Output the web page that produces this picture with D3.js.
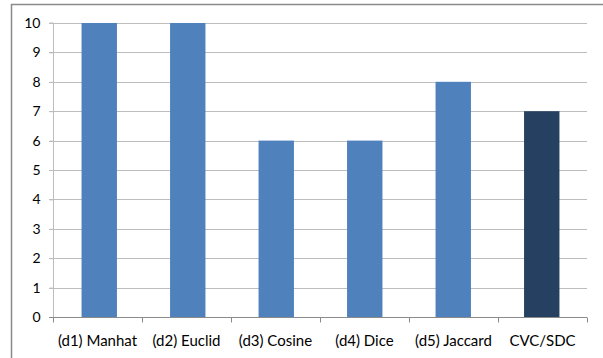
<!DOCTYPE html>
<html>
<head>
<meta charset="utf-8">
<script src="https://cdn.jsdelivr.net/npm/d3@7"></script>
<style>
  html, body { margin: 0; padding: 0; background: #fff; }
  svg { display: block; }
</style>
</head>
<body>
<svg id="chart" width="603" height="358"></svg>
<script>
// Measures compared and the score each one obtained
const categories = ["(d1) Manhat", "(d2) Euclid", "(d3) Cosine", "(d4) Dice", "(d5) Jaccard", "CVC/SDC"];
const scores = [10, 10, 6, 6, 8, 7];
const yTicks = [0, 1, 2, 3, 4, 5, 6, 7, 8, 9, 10];
const highlighted = ["CVC/SDC"];

const svg = d3.select("#chart");
const margin = { left: 53, right: 16, top: 23, bottom: 41 };
const W = 603, H = 358;
const font = "Lato, 'Open Sans', sans-serif";

// Chart frame (only top and left edges fall inside the view)
svg.append("path")
  .attr("d", `M11.5,358 V4.5 H603`)
  .attr("fill", "none")
  .attr("stroke", "#8a8a8a")
  .attr("stroke-width", 1.5);

// Category bands (for separators and labels)
const band = d3.scaleBand()
  .domain(categories)
  .range([margin.left, W - margin.right]);

// Bar placement inside the bands
const x = d3.scaleBand()
  .domain(categories)
  .range([margin.left + 2, W - margin.right - 1])
  .paddingInner(0.6)
  .paddingOuter(0.3);

const y = d3.scaleLinear()
  .domain([0, 10])
  .range([H - margin.bottom, margin.top]);

// Horizontal gridlines
svg.append("g")
  .selectAll("line")
  .data(yTicks.filter(d => d > 0))
  .join("line")
  .attr("x1", margin.left - 4)
  .attr("x2", W - margin.right)
  .attr("y1", d => Math.round(y(d)) + 0.5)
  .attr("y2", d => Math.round(y(d)) + 0.5)
  .attr("stroke", "#bdbdbd")
  .attr("stroke-width", 1);

// Bars
svg.append("g")
  .selectAll("rect")
  .data(categories.map((c, i) => ({ c, v: scores[i] })))
  .join("rect")
  .attr("x", d => x(d.c))
  .attr("width", x.bandwidth())
  .attr("y", d => y(d.v))
  .attr("height", d => y(0) - y(d.v))
  .attr("fill", d => highlighted.includes(d.c) ? "#254061" : "#4f81bd");

// Y axis
const yAxis = svg.append("g")
  .attr("transform", `translate(${margin.left + 0.5},0)`)
  .call(d3.axisLeft(y).tickValues(yTicks).tickSize(4).tickPadding(9).tickFormat(d3.format("d")));
yAxis.select(".domain").attr("stroke", "#bdbdbd").attr("d", `M-4,${y(10)}H0V${y(0)}`);
yAxis.selectAll(".tick line").attr("stroke", "#bdbdbd");
yAxis.selectAll("text")
  .attr("font-family", font)
  .attr("font-size", 14)
  .attr("fill", "#000");

// X axis with ticks between categories
const xAxisG = svg.append("g")
  .attr("transform", `translate(0,${Math.round(y(0)) + 0.5})`);
xAxisG.append("line")
  .attr("x1", margin.left - 4).attr("x2", W - margin.right)
  .attr("stroke", "#8a8a8a");
const bounds = categories.map(c => band(c)).concat([band(categories[categories.length - 1]) + band.bandwidth()]);
xAxisG.selectAll("line.sep")
  .data(bounds)
  .join("line")
  .attr("class", "sep")
  .attr("x1", d => Math.round(d) + 0.5).attr("x2", d => Math.round(d) + 0.5)
  .attr("y1", 0).attr("y2", 5)
  .attr("stroke", "#8a8a8a");
xAxisG.selectAll("text")
  .data(categories)
  .join("text")
  .attr("x", d => band(d) + band.bandwidth() / 2)
  .attr("y", 28.5)
  .attr("text-anchor", "middle")
  .attr("font-family", font)
  .attr("font-size", 15)
  .attr("fill", "#000")
  .text(d => d);
</script>
</body>
</html>
